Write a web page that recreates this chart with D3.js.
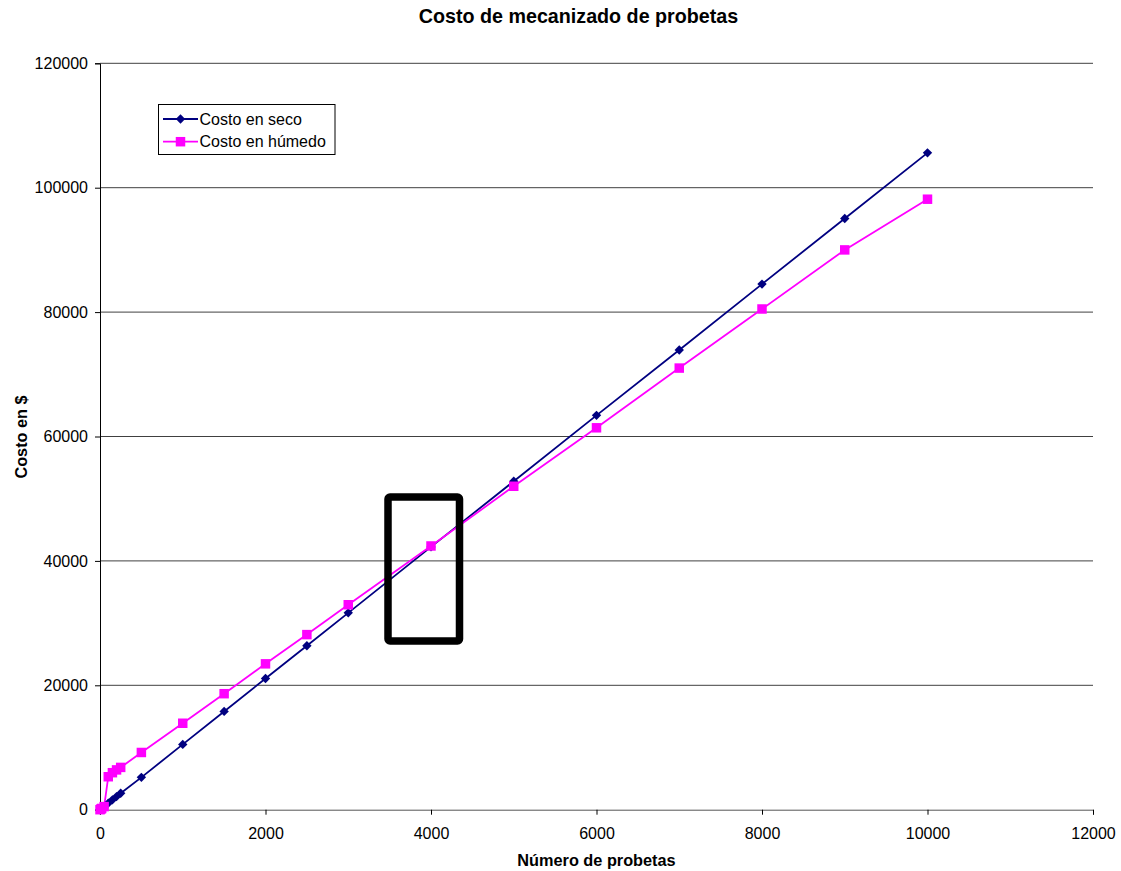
<!DOCTYPE html>
<html><head><meta charset="utf-8">
<script src="https://cdn.jsdelivr.net/npm/d3@7"></script>
<style>body{margin:0;background:#fff}svg{display:block}text{font-family:"Liberation Sans",Arial,sans-serif}</style>
</head><body><svg id="c" width="1121" height="871"></svg>
<script>
const probetas = [0,10,20,50,100,150,200,250,500,1000,1500,2000,2500,3000,4000,5000,6000,7000,8000,9000,10000];
const costoSeco = [0,106,211,528,1056,1583,2111,2639,5200,10500,15800,21100,26350,31650,42250,52800,63400,73900,84500,95050,105600];
const costoHumedo = [0,100,200,500,5300,5950,6400,6800,9200,13900,18650,23450,28150,32950,42400,52000,61400,71000,80500,90000,98150];
const xTicks = [0,2000,4000,6000,8000,10000,12000];
const yTicks = [0,20000,40000,60000,80000,100000,120000];
const seriesNames = ["Costo en seco","Costo en húmedo"];
const title = "Costo de mecanizado de probetas";
const xTitle = "Número de probetas";
const yTitle = "Costo en $";

const svg = d3.select("#c");
const L=100,R=1093,T=63.3,B=809.7;
const x = d3.scaleLinear().domain([0,12000]).range([L,R]);
const y = d3.scaleLinear().domain([0,120000]).range([B,T]);

// gridlines
svg.append("g").selectAll("line").data(yTicks.filter(d=>d>0)).join("line")
  .attr("x1",L).attr("x2",R).attr("y1",d=>y(d)).attr("y2",d=>y(d))
  .attr("stroke","#404040").attr("stroke-width",1);

// axes
const ya = svg.append("g").attr("transform",`translate(${L},0)`)
  .call(d3.axisLeft(y).tickValues(yTicks).tickFormat(d3.format("d")).tickSize(5).tickPadding(7));
const xa = svg.append("g").attr("transform",`translate(0,${B})`)
  .call(d3.axisBottom(x).tickValues(xTicks).tickFormat(d3.format("d")).tickSize(5).tickPadding(13));
[ya,xa].forEach(a=>{
  a.select(".domain").attr("stroke","#000").attr("stroke-width",1);
  a.selectAll(".tick line").attr("stroke","#000");
  a.selectAll("text").attr("font-size",16).attr("fill","#000").attr("font-family","Liberation Sans, Arial, sans-serif");
});
xa.select(".domain").attr("stroke","#555");

// series
const s1 = probetas.map((p,i)=>[p,costoSeco[i]]);
const s2 = probetas.map((p,i)=>[p,costoHumedo[i]]);
const line = d3.line().x(d=>x(d[0])).y(d=>y(d[1]));
svg.append("path").datum(s1).attr("d",line).attr("fill","none").attr("stroke","#000080").attr("stroke-width",1.8);
svg.append("path").datum(s2).attr("d",line).attr("fill","none").attr("stroke","#FF00FF").attr("stroke-width",1.8);
const diamondSym = d3.symbol().type(d3.symbolSquare).size(44);
const square = d3.symbol().type(d3.symbolSquare).size(90);
svg.append("g").selectAll("path").data(s1).join("path")
  .attr("transform",d=>`translate(${x(d[0])},${y(d[1])}) rotate(45)`).attr("d",diamondSym).attr("fill","#000080");
svg.append("g").selectAll("path").data(s2).join("path")
  .attr("transform",d=>`translate(${x(d[0])},${y(d[1])})`).attr("d",square).attr("fill","#FF00FF");

// annotation rectangle
svg.append("rect").attr("x",388).attr("y",497).attr("width",71.5).attr("height",144)
  .attr("rx",2).attr("fill","none").attr("stroke","#000").attr("stroke-width",7.5);

// legend
const lg = svg.append("g");
lg.append("rect").attr("x",158.5).attr("y",104.5).attr("width",176.5).attr("height",50)
  .attr("fill","#fff").attr("stroke","#000").attr("stroke-width",1);
const colors=["#000080","#FF00FF"];
seriesNames.forEach((n,i)=>{
  const yy = 119 + i*22.7;
  lg.append("line").attr("x1",163).attr("x2",198).attr("y1",yy).attr("y2",yy).attr("stroke",colors[i]).attr("stroke-width",1.8);
  if(i===0) lg.append("path").attr("transform",`translate(180.5,${yy}) rotate(45)`).attr("d",diamondSym).attr("fill",colors[i]);
  else lg.append("path").attr("transform",`translate(180.5,${yy})`).attr("d",square).attr("fill",colors[i]);
  lg.append("text").attr("x",199.5).attr("y",yy).attr("dy","0.35em").attr("font-size",16).text(n);
});

// titles
svg.append("text").attr("x",578.5).attr("y",23).attr("text-anchor","middle").attr("font-size",19.7).attr("font-weight","bold").text(title);
svg.append("text").attr("x",596.5).attr("y",866).attr("text-anchor","middle").attr("font-size",16.3).attr("font-weight","bold").text(xTitle);
svg.append("text").attr("transform","translate(26.5,437) rotate(-90)").attr("text-anchor","middle").attr("font-size",16.3).attr("font-weight","bold").text(yTitle);
</script></body></html>
